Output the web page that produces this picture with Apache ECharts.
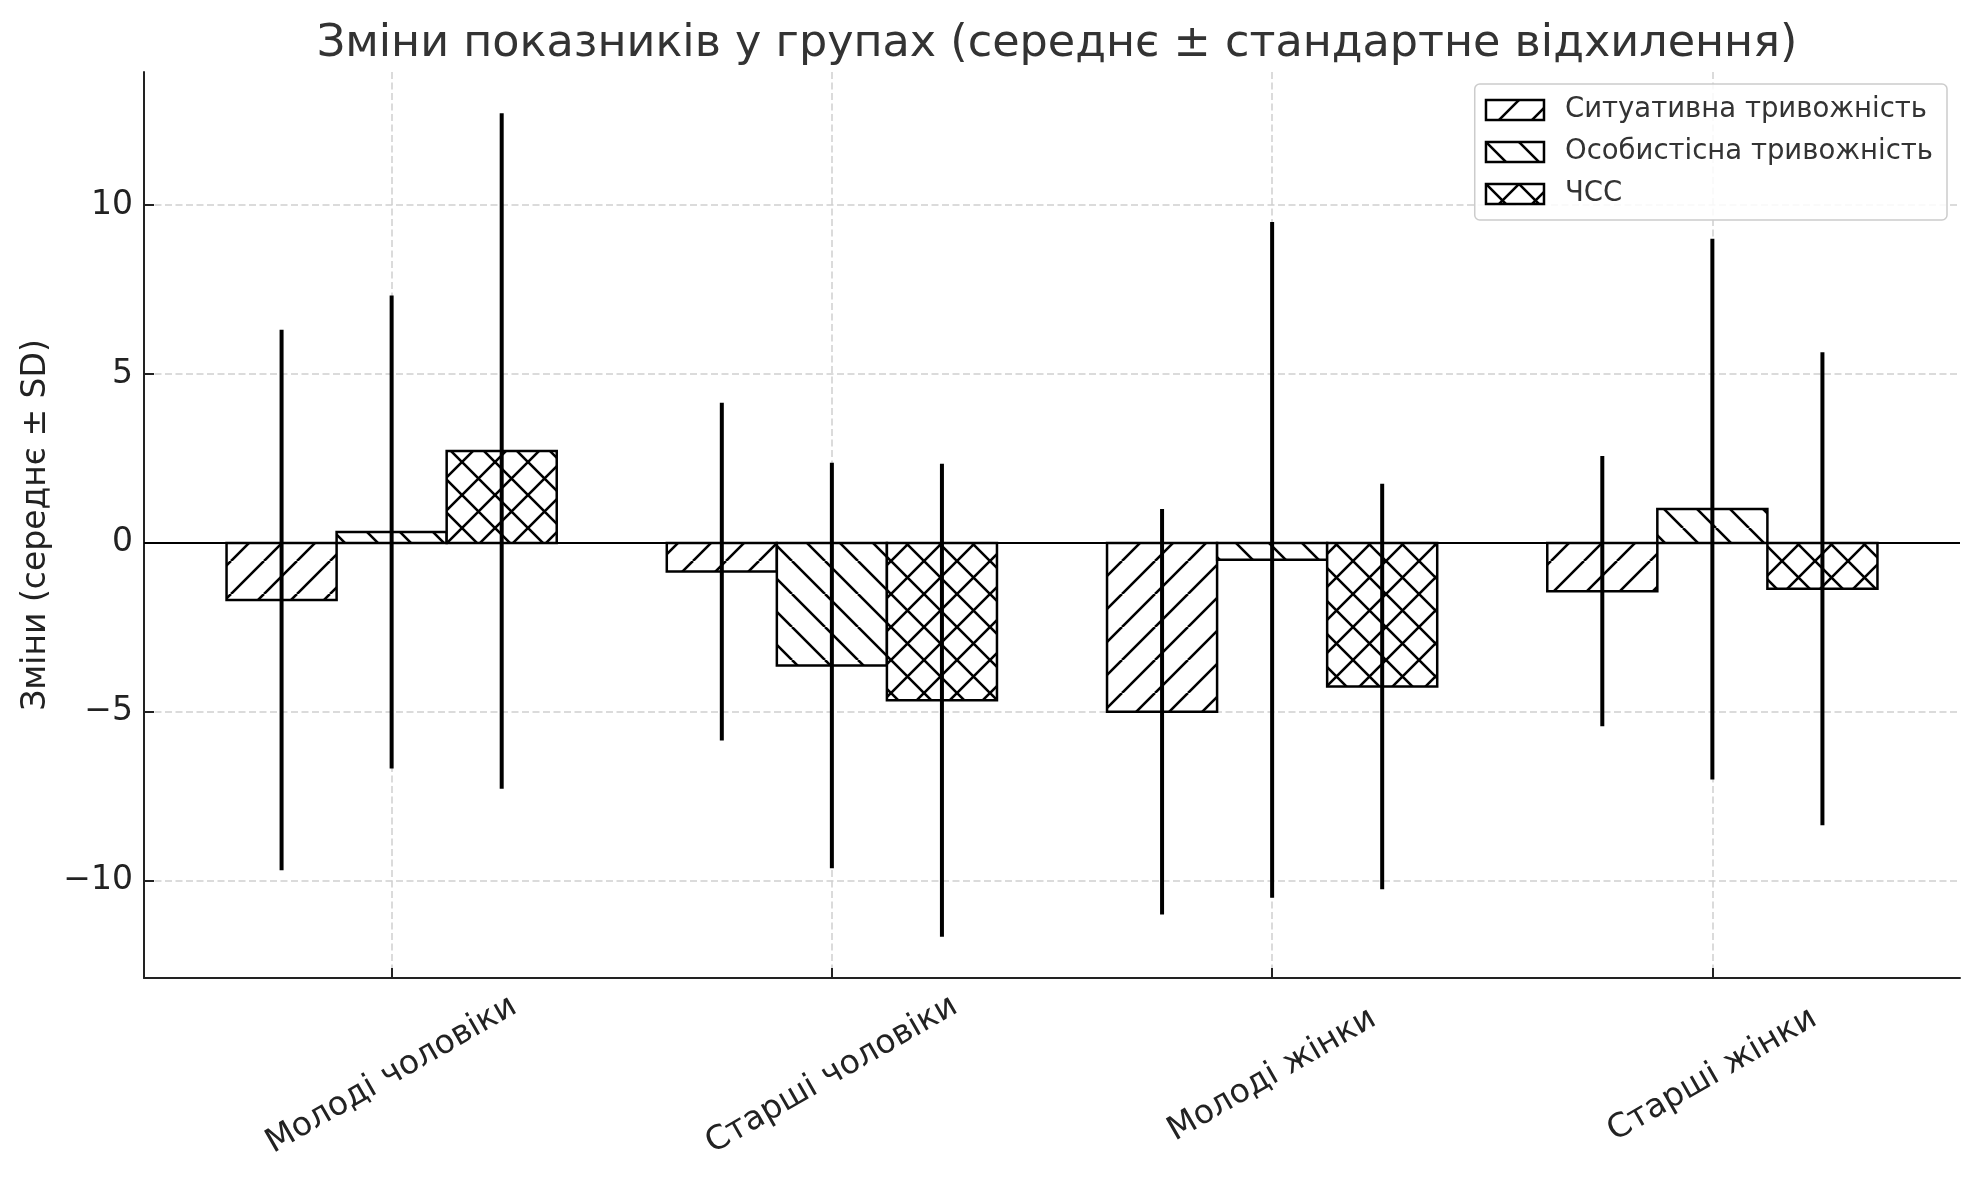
<!DOCTYPE html>
<html>
<head>
<meta charset="utf-8">
<title>Зміни показників у групах</title>
<script src="https://cdn.jsdelivr.net/npm/echarts@6/dist/echarts.min.js"></script>
<style>
  html, body { margin: 0; padding: 0; background: #fff; }
  #chart { width: 1979px; height: 1180px; }
</style>
</head>
<body>
<div id="chart"></div>
<script>
// дані
var categories = ['Молоді чоловіки', 'Старші чоловіки', 'Молоді жінки', 'Старші жінки'];
var seriesNames = ['Ситуативна тривожність', 'Особистісна тривожність', 'ЧСС'];
var sitMean = [-1.69, -0.85, -5.0, -1.43];
var sitSd = [8, 5, 6, 4];
var osobMean = [0.32, -3.63, -0.5, 1.0];
var osobSd = [7, 6, 10, 8];
var hrMean = [2.72, -4.66, -4.25, -1.36];
var hrSd = [10, 7, 6, 7];
var yTicks = [-10, -5, 0, 5, 10];

var means = [sitMean, osobMean, hrMean];
var sds = [sitSd, osobSd, hrSd];
var barW = 0.25;
var offsets = [-barW, 0, barW];

// штрихування як у matplotlib
function hatch(kind) {
  var p = 33;
  var c = document.createElement('canvas');
  c.width = p; c.height = p;
  var ctx = c.getContext('2d');
  ctx.fillStyle = '#fff';
  ctx.fillRect(0, 0, p, p);
  ctx.strokeStyle = '#000';
  ctx.lineWidth = 2.6;
  ctx.beginPath();
  for (var k = -1; k <= 1; k++) {
    if (kind == '/' || kind == 'x') {
      ctx.moveTo(k * p, p); ctx.lineTo(k * p + p, 0);
    }
    if (kind == '\\' || kind == 'x') {
      ctx.moveTo(k * p, 0); ctx.lineTo(k * p + p, p);
    }
  }
  ctx.stroke();
  return { image: c, repeat: 'repeat' };
}
var patterns = [hatch('/'), hatch('\\'), hatch('x')];

// межі осей як в автомасштабі matplotlib (5% запасу)
var xl = offsets[0] - barW / 2, xr = categories.length - 1 + offsets[2] + barW / 2;
var xPad = (xr - xl) * 0.05;
var lo = Infinity, hi = -Infinity;
for (var s = 0; s < 3; s++) {
  for (var i = 0; i < categories.length; i++) {
    lo = Math.min(lo, means[s][i] - sds[s][i]);
    hi = Math.max(hi, means[s][i] + sds[s][i]);
  }
}
var yPad = (hi - lo) * 0.05;

var myChart = echarts.init(document.getElementById('chart'));

function barRender(s) {
  return function (params, api) {
    var x = api.value(0) + offsets[s];
    var y = api.value(1);
    var p0 = api.coord([x - barW / 2, 0]);
    var p1 = api.coord([x + barW / 2, y]);
    return {
      type: 'rect',
      shape: { x: p0[0], y: Math.min(p0[1], p1[1]), width: p1[0] - p0[0], height: Math.abs(p1[1] - p0[1]) },
      style: { fill: patterns[s], stroke: '#000', lineWidth: 2.5 }
    };
  };
}

var series = [];
for (var s = 0; s < 3; s++) {
  var d = [];
  for (var i = 0; i < categories.length; i++) d.push([i, means[s][i]]);
  series.push({
    name: seriesNames[s],
    type: 'custom',
    renderItem: barRender(s),
    itemStyle: { color: patterns[s], borderColor: '#000', borderWidth: 2.5 },
    encode: { x: 0, y: 1 },
    data: d,
    z: 2
  });
}

// похибки (середнє ± SD)
var errData = [];
for (var s = 0; s < 3; s++) {
  for (var i = 0; i < categories.length; i++) {
    errData.push([i + offsets[s], means[s][i] - sds[s][i], means[s][i] + sds[s][i]]);
  }
}
series.push({
  name: 'err',
  type: 'custom',
  renderItem: function (params, api) {
    var a = api.coord([api.value(0), api.value(1)]);
    var b = api.coord([api.value(0), api.value(2)]);
    return {
      type: 'line',
      shape: { x1: a[0], y1: a[1], x2: b[0], y2: b[1] },
      style: { stroke: '#000', lineWidth: 4 }
    };
  },
  encode: { x: 0, y: [1, 2] },
  data: errData,
  z: 4,
  markLine: {
    silent: true,
    symbol: ['none', 'none'],
    label: { show: false },
    lineStyle: { color: '#000', width: 2, type: 'solid' },
    data: [{ yAxis: 0 }]
  }
});

var option = {
  animation: false,
  backgroundColor: '#fff',
  textStyle: { fontFamily: 'DejaVu Sans' },
  title: {
    text: 'Зміни показників у групах (середнє ± стандартне відхилення)',
    left: 1052,
    top: 17,
    textAlign: 'center',
    textStyle: { fontFamily: 'DejaVu Sans', fontSize: 44.5, fontWeight: 'normal', color: '#333' }
  },
  legend: {
    orient: 'vertical',
    right: 32,
    top: 84,
    padding: [12, 14, 12, 10],
    itemWidth: 58,
    itemHeight: 20,
    itemGap: 14,
    icon: 'rect',
    backgroundColor: 'rgba(255,255,255,0.85)',
    borderColor: '#cccccc',
    borderWidth: 1.5,
    borderRadius: 5,
    data: seriesNames.map(function (n, k) {
      return { name: n, itemStyle: { color: patterns[k], borderColor: '#000', borderWidth: 2.5 } };
    }),
    textStyle: { fontFamily: 'DejaVu Sans', fontSize: 27.5, color: '#333', padding: [0, 0, 0, 16] }
  },
  grid: { left: 144, right: 19, top: 72, bottom: 202, containLabel: false },
  xAxis: {
    type: 'value',
    min: xl - xPad,
    max: xr + xPad,
    axisLine: { show: true, onZero: false, lineStyle: { color: '#222', width: 2 } },
    axisTick: { show: true, inside: true, length: 10, customValues: [0, 1, 2, 3], lineStyle: { color: '#222', width: 2 } },
    axisLabel: {
      customValues: [0, 1, 2, 3],
      rotate: 30,
      align: 'center',
      verticalAlign: 'middle',
      margin: 97,
      fontFamily: 'DejaVu Sans',
      fontSize: 33,
      color: '#222',
      formatter: function (v) { return categories[Math.round(v)]; }
    },
    splitLine: { show: true, lineStyle: { color: '#cfcfcf', type: [7, 3.5], width: 1.5 } }
  },
  yAxis: {
    type: 'value',
    min: lo - yPad,
    max: hi + yPad,
    name: 'Зміни (середнє ± SD)',
    nameLocation: 'middle',
    nameGap: 90,
    nameTextStyle: { fontFamily: 'DejaVu Sans', fontSize: 33, color: '#222' },
    axisLine: { show: true, onZero: false, lineStyle: { color: '#222', width: 2 } },
    axisTick: { show: true, inside: true, length: 10, customValues: yTicks, lineStyle: { color: '#222', width: 2 } },
    axisLabel: {
      customValues: yTicks,
      margin: 11,
      fontFamily: 'DejaVu Sans',
      fontSize: 33,
      color: '#222',
      formatter: function (v) { return v < 0 ? '\u2212' + Math.abs(v) : String(v); }
    },
    splitLine: { show: true, lineStyle: { color: '#cfcfcf', type: [7, 3.5], width: 1.5 } }
  },
  series: series
};

myChart.setOption(option);
</script>
</body>
</html>
